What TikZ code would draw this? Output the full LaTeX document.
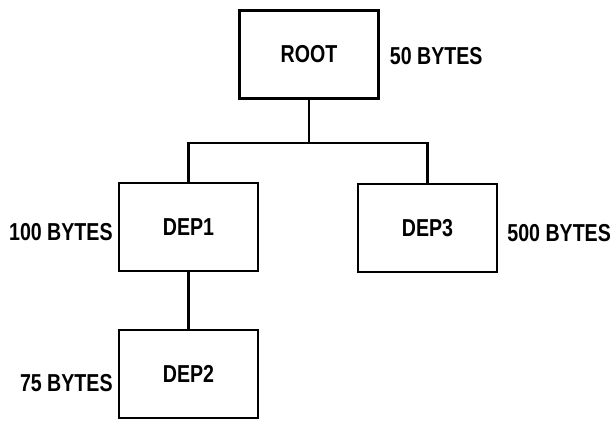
\documentclass[tikz,border=0pt]{standalone}
\usepackage{fontspec}
\setmainfont{Liberation Sans}[FakeStretch=0.8]
\begin{document}
\begin{tikzpicture}[x=1pt,y=-1pt,
  box/.style={draw,line width=2.4pt,minimum width=139pt,minimum height=88pt,inner sep=0pt,font=\fontsize{24.5}{26}\selectfont\bfseries},
  lbl/.style={inner sep=0pt,font=\fontsize{24.5}{26}\selectfont\bfseries},
  conn/.style={line width=2.4pt}]
\useasboundingbox (0,0) rectangle (616,422);
\node[box] (root) at (309,54.5) {ROOT};
\node[box] (dep1) at (188.5,227) {DEP1};
\node[box] (dep3) at (427.5,228) {DEP3};
\node[box] (dep2) at (188.5,374) {DEP2};
\node[lbl,anchor=west] (l50) at ([xshift=10pt,yshift=-2pt]root.east) {50 BYTES};
\node[lbl,anchor=east] (l100) at ([xshift=-5pt,yshift=-5pt]dep1.west) {100 BYTES};
\node[lbl,anchor=west] (l500) at ([xshift=9pt,yshift=-5pt]dep3.east) {500 BYTES};
\node[lbl,anchor=east] (l75) at ([xshift=-5pt,yshift=-9pt]dep2.west) {75 BYTES};
\coordinate (j) at (309,143);
\draw[conn] (root.south) -- (j);
\draw[conn] (j) -| (dep1.north);
\draw[conn] (j) -| (dep3.north);
\draw[conn] (dep1.south) -- (dep2.north);
\end{tikzpicture}
\end{document}
